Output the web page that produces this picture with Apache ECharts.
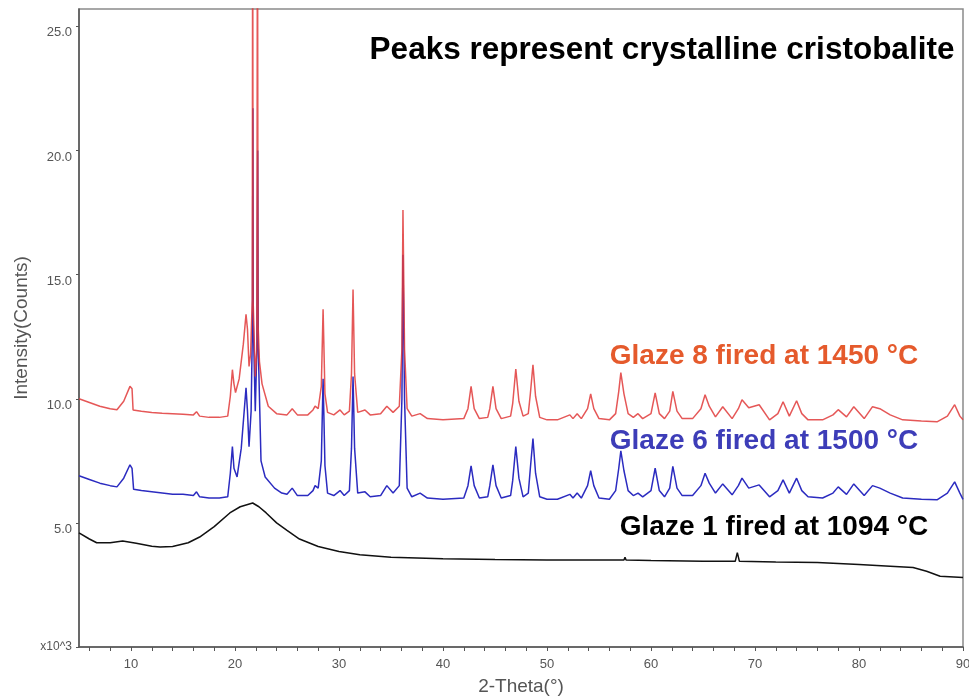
<!DOCTYPE html>
<html><head><meta charset="utf-8">
<script src="https://cdn.jsdelivr.net/npm/echarts@6/dist/echarts.min.js"></script>
<style>html,body{margin:0;padding:0;background:#fff}#c{width:969px;height:698px}</style>
</head><body><div id="c"></div>
<script>
// ---- data (x = 2-Theta in degrees, y = counts x10^3) ----
const glaze8 = [
[5,10.0],[6,9.85],[7,9.7],[8,9.6],[8.65,9.56],[9.3,9.9],[9.9,10.5],[10.1,10.4],[10.2,9.55],[11,9.5],[12,9.45],[13,9.42],[14,9.4],[15,9.38],[16,9.35],[16.3,9.48],[16.6,9.3],[17.5,9.25],[18.5,9.25],[19.3,9.3],[19.55,10.1],[19.75,11.17],[19.9,10.6],[20.05,10.25],[20.4,10.8],[20.8,12.2],[21.06,13.4],[21.2,12.8],[21.35,11.3],[21.5,11.8],[21.66,14],[21.7,32],[21.74,14],[21.95,10.9],[22.1,12],[22.16,32],[22.22,13],[22.35,11.5],[22.6,10.6],[23.2,9.7],[24.0,9.4],[25.0,9.35],[25.5,9.6],[26.0,9.35],[27.0,9.35],[27.5,9.55],[27.7,9.7],[28.0,9.6],[28.3,10.5],[28.47,13.6],[28.65,10.2],[28.9,9.45],[29.5,9.35],[30.1,9.55],[30.5,9.35],[31.0,9.5],[31.2,11.0],[31.35,14.4],[31.5,11.0],[31.8,9.45],[32.5,9.55],[33,9.35],[34,9.4],[34.6,9.7],[35.2,9.45],[35.8,9.7],[36.05,12],[36.15,17.6],[36.3,12],[36.55,9.6],[37.0,9.3],[37.8,9.4],[38.5,9.2],[40,9.15],[42.0,9.2],[42.4,9.6],[42.7,10.5],[43.0,9.6],[43.5,9.2],[44.3,9.25],[44.5,9.6],[44.8,10.5],[45.1,9.6],[45.6,9.2],[46.5,9.3],[46.7,9.8],[47.0,11.2],[47.3,9.9],[47.7,9.3],[48.2,9.4],[48.4,10.2],[48.65,11.37],[48.9,10.1],[49.3,9.25],[50,9.15],[51,9.15],[52.2,9.35],[52.5,9.2],[52.9,9.4],[53.3,9.2],[53.9,9.6],[54.2,10.2],[54.5,9.6],[55.0,9.2],[56.0,9.15],[56.6,9.4],[56.9,10.3],[57.1,11.05],[57.4,10.2],[57.8,9.4],[58.3,9.25],[58.75,9.4],[59.2,9.2],[60.0,9.4],[60.4,10.24],[60.8,9.4],[61.3,9.2],[61.8,9.5],[62.1,10.3],[62.5,9.5],[63,9.2],[64,9.2],[64.8,9.6],[65.2,10.16],[65.6,9.7],[66.2,9.27],[66.9,9.68],[67.8,9.2],[68.4,9.6],[68.75,9.96],[69.4,9.64],[70.4,9.76],[71.4,9.15],[72.2,9.4],[72.7,9.88],[73.3,9.3],[74.0,9.92],[74.5,9.4],[75.1,9.15],[76.5,9.15],[77.5,9.35],[78.0,9.56],[78.8,9.27],[79.5,9.68],[80.5,9.2],[81.3,9.68],[82.0,9.6],[83,9.35],[84.2,9.15],[86,9.1],[87.5,9.07],[88.5,9.3],[89.2,9.76],[89.7,9.3],[90,9.15]
];
const glaze6 = [
[5,6.9],[6,6.75],[7,6.6],[8,6.5],[8.65,6.45],[9.3,6.8],[9.9,7.34],[10.1,7.2],[10.25,6.35],[11,6.3],[12,6.25],[13,6.2],[14,6.15],[15,6.15],[16,6.1],[16.3,6.25],[16.6,6.05],[17.5,6.0],[18.5,6.0],[19.3,6.05],[19.55,7.0],[19.75,8.07],[19.9,7.2],[20.2,6.85],[20.6,8.0],[21.06,10.44],[21.2,9.5],[21.35,8.07],[21.55,9.5],[21.68,13],[21.72,21.7],[21.76,13],[21.95,9.5],[22.1,12],[22.18,20.0],[22.24,12],[22.5,7.5],[22.9,6.85],[23.8,6.4],[24.5,6.2],[25.0,6.15],[25.5,6.4],[26.0,6.1],[27.0,6.1],[27.5,6.3],[27.7,6.5],[28.0,6.4],[28.3,7.5],[28.47,10.8],[28.65,7.3],[28.9,6.2],[29.5,6.1],[30.1,6.3],[30.5,6.1],[31.0,6.3],[31.2,8.0],[31.35,10.9],[31.5,8.0],[31.8,6.2],[32.5,6.25],[33,6.05],[34,6.1],[34.6,6.5],[35.2,6.2],[35.8,6.5],[36.05,10],[36.15,15.8],[36.3,10],[36.55,6.4],[37.0,6.05],[37.8,6.2],[38.5,6.0],[40,5.95],[42.0,6.0],[42.4,6.5],[42.7,7.3],[43.0,6.5],[43.5,6.0],[44.3,6.05],[44.5,6.5],[44.8,7.34],[45.1,6.5],[45.6,6.0],[46.5,6.1],[46.7,6.7],[47.0,8.07],[47.3,6.8],[47.7,6.05],[48.2,6.2],[48.4,7.2],[48.65,8.4],[48.9,7.0],[49.3,6.05],[50,5.95],[51,5.95],[52.2,6.15],[52.5,6.0],[52.9,6.2],[53.3,6.0],[53.9,6.5],[54.2,7.1],[54.5,6.5],[55.0,6.0],[56.0,5.95],[56.6,6.3],[56.9,7.2],[57.1,7.9],[57.4,7.1],[57.8,6.3],[58.3,6.1],[58.75,6.2],[59.2,6.05],[60.0,6.3],[60.4,7.2],[60.8,6.3],[61.3,6.05],[61.8,6.4],[62.1,7.28],[62.5,6.4],[63,6.1],[64,6.1],[64.8,6.5],[65.2,7.0],[65.6,6.6],[66.2,6.2],[66.9,6.57],[67.8,6.13],[68.4,6.5],[68.75,6.8],[69.4,6.4],[70.4,6.53],[71.4,6.05],[72.2,6.3],[72.7,6.73],[73.3,6.2],[74.0,6.8],[74.5,6.3],[75.1,6.05],[76.5,6.0],[77.5,6.2],[78.0,6.45],[78.8,6.15],[79.5,6.57],[80.5,6.1],[81.3,6.5],[82.0,6.4],[83,6.2],[84.2,6.0],[86,5.95],[87.5,5.93],[88.5,6.2],[89.2,6.65],[89.7,6.2],[90,5.95]
];
const glaze1 = [
[5,4.6],[6,4.35],[6.7,4.2],[8,4.2],[9.2,4.27],[10.5,4.18],[12,4.06],[12.8,4.03],[14,4.05],[15.5,4.2],[16.6,4.43],[18,4.85],[19.5,5.4],[20.5,5.65],[21.7,5.8],[22.3,5.65],[23,5.4],[24,5.0],[25,4.7],[26.2,4.35],[28,4.05],[30,3.85],[32,3.72],[35,3.62],[40,3.55],[45,3.52],[50,3.5],[55,3.5],[57.4,3.5],[57.5,3.62],[57.6,3.5],[60,3.48],[65,3.45],[68.1,3.45],[68.3,3.8],[68.5,3.45],[72,3.42],[76,3.4],[80,3.32],[83,3.25],[85.2,3.2],[86.5,3.05],[87.8,2.85],[90,2.8]
];
const seriesNames = ['Glaze 8 fired at 1450 °C','Glaze 6 fired at 1500 °C','Glaze 1 fired at 1094 °C'];
const xLabelValues = [10,20,30,40,50,60,70,80,90];
const xTickValues = [6,8,10,12,14,16,18,20,22,24,26,28,30,32,34,36,38,40,42,44,46,48,50,52,54,56,58,60,62,64,66,68,70,72,74,76,78,80,82,84,86,88,90];
const yLabelValues = [5,10,15,20,25];
const yTickValues = [0,5,10,15,20,25];
const chartTitle = 'Peaks represent crystalline cristobalite';
const xName = '2-Theta(°)';
const yName = 'Intensity(Counts)';
const yUnit = 'x10^3';

const FONT = '"Liberation Sans", Arial, sans-serif';
const chart = echarts.init(document.getElementById('c'), null, {renderer: 'canvas'});
chart.setOption({
  animation: false,
  backgroundColor: '#fff',
  grid: {left: 79, right: 6, top: 9, bottom: 51, show: true, borderColor: '#8a8a8a', borderWidth: 1.5,
         containLabel: false, outerBoundsMode: 'none'},
  xAxis: {
    type: 'value', min: 5, max: 90,
    name: xName, nameLocation: 'middle', nameGap: 30,
    nameTextStyle: {fontFamily: FONT, fontSize: 19, color: '#555'},
    axisLine: {lineStyle: {color: '#555', width: 1.5}},
    axisTick: {show: true, length: 4, customValues: xTickValues, lineStyle: {color: '#555'}},
    axisLabel: {customValues: xLabelValues, fontFamily: FONT, fontSize: 13, color: '#555', margin: 11},
    splitLine: {show: false}
  },
  yAxis: {
    type: 'value', min: 0, max: 25.7,
    name: yName, nameLocation: 'middle', nameGap: 48,
    nameTextStyle: {fontFamily: FONT, fontSize: 19, color: '#555'},
    axisLine: {show: true, lineStyle: {color: '#555', width: 1.5}},
    axisTick: {show: true, length: 3, customValues: yTickValues, lineStyle: {color: '#555'}},
    axisLabel: {customValues: yLabelValues, fontFamily: FONT, fontSize: 13, color: '#555', margin: 7,
      verticalAlign: 'top', formatter: v => v.toFixed(1)},
    splitLine: {show: false}
  },
  series: [
    {name: seriesNames[2], type: 'line', data: glaze1, showSymbol: false, lineStyle: {color: '#111', width: 1.5}, z: 2},
    {name: seriesNames[1], type: 'line', data: glaze6, showSymbol: false, lineStyle: {color: '#2b2bc0', width: 1.5}, z: 3},
    {name: seriesNames[0], type: 'line', data: glaze8, showSymbol: false, lineStyle: {color: '#e03a3a', width: 1.5, opacity: 0.85}, z: 4}
  ]
});

const origin = chart.convertToPixel({gridIndex: 0}, [5, 0]);
chart.setOption({
  graphic: [
    {type: 'text', style: {text: yUnit, fontFamily: FONT, fontSize: 12, fill: '#555', align: 'right', verticalAlign: 'middle', x: origin[0] - 7, y: origin[1]}},
    {type: 'text', style: {text: chartTitle, fontFamily: FONT, fontWeight: 'bold', fontSize: 31.5, fill: '#000', align: 'center', verticalAlign: 'middle', x: 662, y: 50}},
    {type: 'text', style: {text: seriesNames[0], fontFamily: FONT, fontWeight: 'bold', fontSize: 28, fill: '#e55a2c', align: 'center', verticalAlign: 'middle', x: 764, y: 356}},
    {type: 'text', style: {text: seriesNames[1], fontFamily: FONT, fontWeight: 'bold', fontSize: 28, fill: '#3d3db8', align: 'center', verticalAlign: 'middle', x: 764, y: 441}},
    {type: 'text', style: {text: seriesNames[2], fontFamily: FONT, fontWeight: 'bold', fontSize: 28, fill: '#000', align: 'center', verticalAlign: 'middle', x: 774, y: 527}}
  ]
});
</script>
</body></html>
